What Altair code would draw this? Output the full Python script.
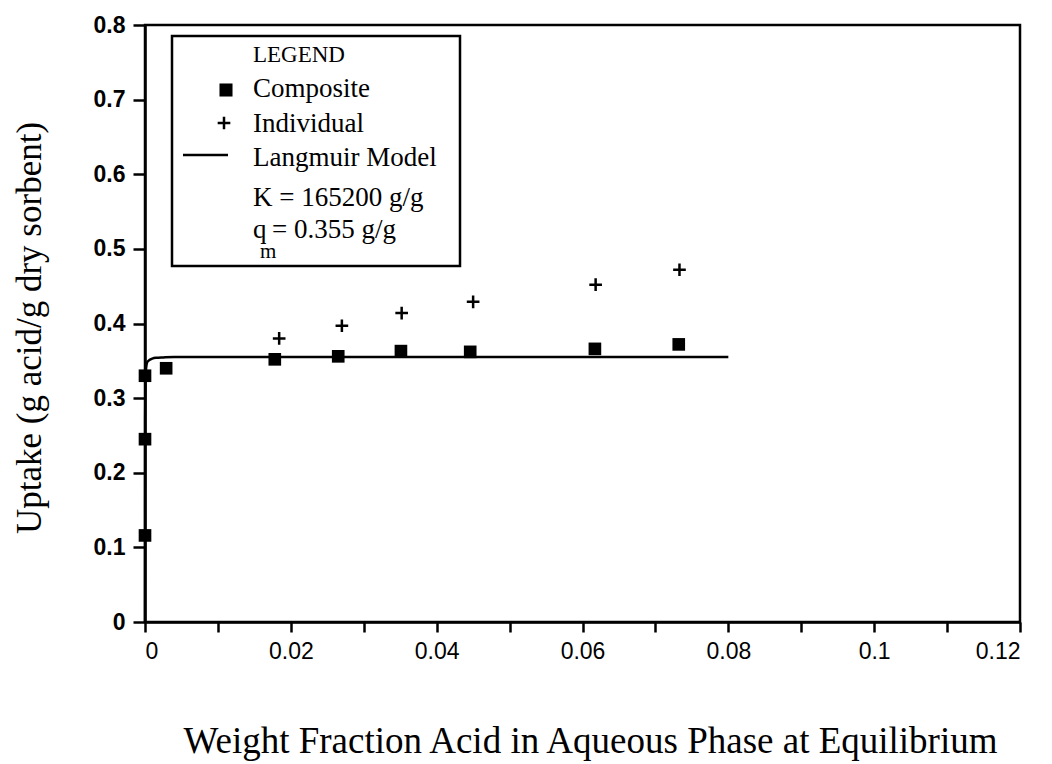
import altair as alt
import pandas as pd

# ---- data ----
comp_x = [0.0, 0.0, 0.0, 0.0029, 0.0178, 0.0265, 0.0351, 0.0446, 0.0617, 0.0732]
comp_y = [0.116, 0.245, 0.330, 0.340, 0.352, 0.356, 0.363, 0.362, 0.366, 0.372]
ind_x = [0.0184, 0.0270, 0.0352, 0.0450, 0.0618, 0.0733]
ind_y = [0.380, 0.397, 0.414, 0.429, 0.452, 0.472]
model_x = [0.0, 0.00002, 0.0001, 0.0003, 0.0006, 0.001, 0.0015, 0.0025, 0.004, 0.01, 0.04, 0.08]
model_y = [0.0, 0.27, 0.334, 0.348, 0.351, 0.353, 0.354, 0.3545, 0.355, 0.355, 0.355, 0.355]
x_ticks = [i / 100 for i in range(13)]
y_ticks = [i / 10 for i in range(9)]

x_title = "Weight Fraction Acid in Aqueous Phase at Equilibrium"
y_title = "Uptake (g acid/g dry sorbent)"
legend_title = "LEGEND"
legend_entries = ["Composite", "Individual", "Langmuir Model"]
k_text = "K = 165200 g/g"
qm_main = "q"
qm_sub = "m"
qm_rest = "= 0.355 g/g"

W, H = 875, 597
SERIF = "Liberation Serif"
SANS = "Liberation Sans"
PLUS = "M-1,0H1M0,-1V1"

comp = pd.DataFrame({"x": comp_x, "y": comp_y})
ind = pd.DataFrame({"x": ind_x, "y": ind_y})
model = pd.DataFrame({"x": model_x, "y": model_y})

xscale = alt.Scale(domain=[0, 0.12], nice=False, zero=False)
yscale = alt.Scale(domain=[0, 0.8], nice=False, zero=False)

xenc = alt.X(
    "x:Q",
    scale=xscale,
    title=x_title,
    axis=alt.Axis(
        values=x_ticks,
        labelExpr="round(datum.value*100)%2==0 ? format(datum.value, '.2~f') : ''",
        tickSize=10,
        labelPadding=8,
        titleFontSize=37,
        titleX=445,
        titleY=130,
        titleAlign="center",
        titleBaseline="alphabetic",
    ),
)
yenc = alt.Y(
    "y:Q",
    scale=yscale,
    title=None,
    axis=alt.Axis(
        values=y_ticks,
        labelExpr="format(datum.value, '.1~f')",
        tickSize=12,
        labelPadding=8,
        labelFontWeight="bold",
    ),
)

line = alt.Chart(model).mark_line(color="black", strokeWidth=2.5, interpolate="monotone").encode(x=xenc, y=yenc)
squares = alt.Chart(comp).mark_square(size=160, color="black", opacity=1).encode(x=xenc, y=yenc)
plus = alt.Chart(ind).mark_point(shape=PLUS, size=160, stroke="black", strokeWidth=2.5, filled=False, opacity=1).encode(
    x=xenc, y=yenc
)

# ---- legend box ----
one = pd.DataFrame({"k": [0]})
box = alt.Chart(one).mark_rect(fill="white", stroke="black", strokeWidth=2.5).encode(
    x=alt.value(27), x2=alt.value(315), y=alt.value(11), y2=alt.value(241)
)


def txt(s, x, y, size=27, angle=0, align="left", baseline="alphabetic"):
    return alt.Chart(pd.DataFrame({"t": [s]})).mark_text(
        font=SERIF, fontSize=size, align=align, baseline=baseline, color="black", angle=angle
    ).encode(x=alt.value(x), y=alt.value(y), text="t:N")


leg_sq = alt.Chart(one).mark_square(size=170, color="black", opacity=1).encode(x=alt.value(81), y=alt.value(65))
leg_plus = alt.Chart(one).mark_point(shape=PLUS, size=160, stroke="black", strokeWidth=2.5, filled=False, opacity=1).encode(
    x=alt.value(79), y=alt.value(98)
)
leg_line = alt.Chart(one).mark_rule(color="black", strokeWidth=2.5).encode(
    x=alt.value(38), x2=alt.value(83), y=alt.value(130)
)

chart = alt.layer(
    line,
    squares,
    plus,
    box,
    txt(legend_title, 108, 37, 23),
    leg_sq,
    txt(legend_entries[0], 108, 72),
    leg_plus,
    txt(legend_entries[1], 108, 107),
    leg_line,
    txt(legend_entries[2], 108, 141),
    txt(k_text, 108, 181),
    txt(qm_main, 108, 213),
    txt(qm_sub, 115, 233, 21),
    txt(qm_rest, 127, 213),
    txt(y_title, -115, 303, 35, angle=270, align="center", baseline="middle"),
).properties(
    width=W,
    height=H,
    autosize=alt.AutoSizeParams(type="none"),
    padding={"left": 145, "top": 25, "right": 32, "bottom": 142},
    background="white",
).configure_view(
    stroke="black", strokeWidth=2.5
).configure_axis(
    grid=False,
    domainColor="black",
    domainWidth=2.5,
    tickColor="black",
    tickWidth=2.5,
    labelColor="black",
    titleColor="black",
    labelFont=SANS,
    labelFontSize=23,
    titleFont=SERIF,
    titleFontWeight="normal",
)

chart.save("out.html", embed_options={"renderer": "svg", "actions": False})
